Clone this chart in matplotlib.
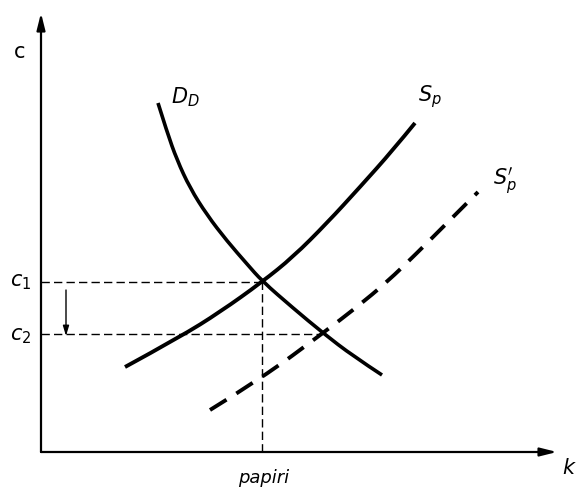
import matplotlib.pyplot as plt
from matplotlib.path import Path
from matplotlib.patches import PathPatch

# curves (origin at the axes corner)
d_x = [117, 126, 136, 149, 166, 186, 206, 221, 252, 282, 312, 341]
d_y = [349, 320, 292, 264, 237, 211, 188, 171, 144, 119, 96, 77]

s_x = [84, 139, 179, 221, 252, 286, 319, 352, 374]
s_y = [85, 115, 140, 170, 195, 229, 265, 302, 329]

s2_x = [169, 221, 282, 316, 346, 376, 406, 437]
s2_y = [42, 74, 119, 145, 170, 199, 229, 260]

c1 = 170
c2 = 118
k_eq = 221
k_new = 281


def curve(ax, xs, ys, **kw):
    # smooth path: read points act as quadratic control points
    pts = list(zip(xs, ys))
    verts = [pts[0]]
    codes = [Path.MOVETO]
    for i in range(1, len(pts) - 1):
        nxt = pts[i + 1] if i + 1 == len(pts) - 1 else (
            (pts[i][0] + pts[i + 1][0]) / 2, (pts[i][1] + pts[i + 1][1]) / 2)
        verts += [pts[i], nxt]
        codes += [Path.CURVE3, Path.CURVE3]
    ax.add_patch(PathPatch(Path(verts, codes), fill=False, color="black", **kw))


fig = plt.figure(figsize=(5.79, 4.95), dpi=100)
ax = fig.add_axes([0, 0, 1, 1])
ax.set_xlim(-41, 538)
ax.set_ylim(-43, 452)
ax.axis("off")

# axes with arrowheads
arrow = dict(arrowstyle="-|>,head_length=1.0,head_width=0.25", color="black", lw=1.6,
             shrinkA=0, shrinkB=0)
ax.annotate("", xy=(0, 439), xytext=(0, 0), arrowprops=arrow)
ax.annotate("", xy=(516, 0), xytext=(0, 0), arrowprops=arrow)

# guide lines
guide = dict(color="black", lw=1.0, dashes=(6, 3))
ax.plot([0, k_eq], [c1, c1], **guide)
ax.plot([0, k_new], [c2, c2], **guide)
ax.plot([k_eq, k_eq], [0, c1], **guide)

# curves
curve(ax, d_x, d_y, lw=2.6, capstyle="butt")
curve(ax, s_x, s_y, lw=2.8, capstyle="butt")
curve(ax, s2_x, s2_y, lw=2.8, linestyle=(0, (5, 3)), capstyle="butt")

# small shift arrow
ax.annotate("", xy=(25, c2 - 2), xytext=(25, c1 - 8),
            arrowprops=dict(arrowstyle="-|>,head_length=0.6,head_width=0.18",
                            color="black", lw=1.0, shrinkA=0, shrinkB=0))

plt.rcParams["mathtext.fontset"] = "dejavusans"
fs = 15
ax.text(-21, 400, "c", fontsize=fs, ha="center", va="center")
ax.text(-20, c1, "$c_1$", fontsize=fs, ha="center", va="center")
ax.text(-20, c2 - 2, "$c_2$", fontsize=fs, ha="center", va="center")
ax.text(144, 355, "$D_D$", fontsize=fs, ha="center", va="center")
ax.text(389, 355, "$S_p$", fontsize=fs, ha="center", va="center")
ax.text(464, 271, "$S^{\\prime}_p$", fontsize=fs, ha="center", va="center")
ax.text(528, -16, "$k$", fontsize=fs, ha="center", va="center")
ax.text(223, -26, "papiri", fontsize=13, style="italic", ha="center", va="center")

fig.savefig("out.png", dpi=100)
